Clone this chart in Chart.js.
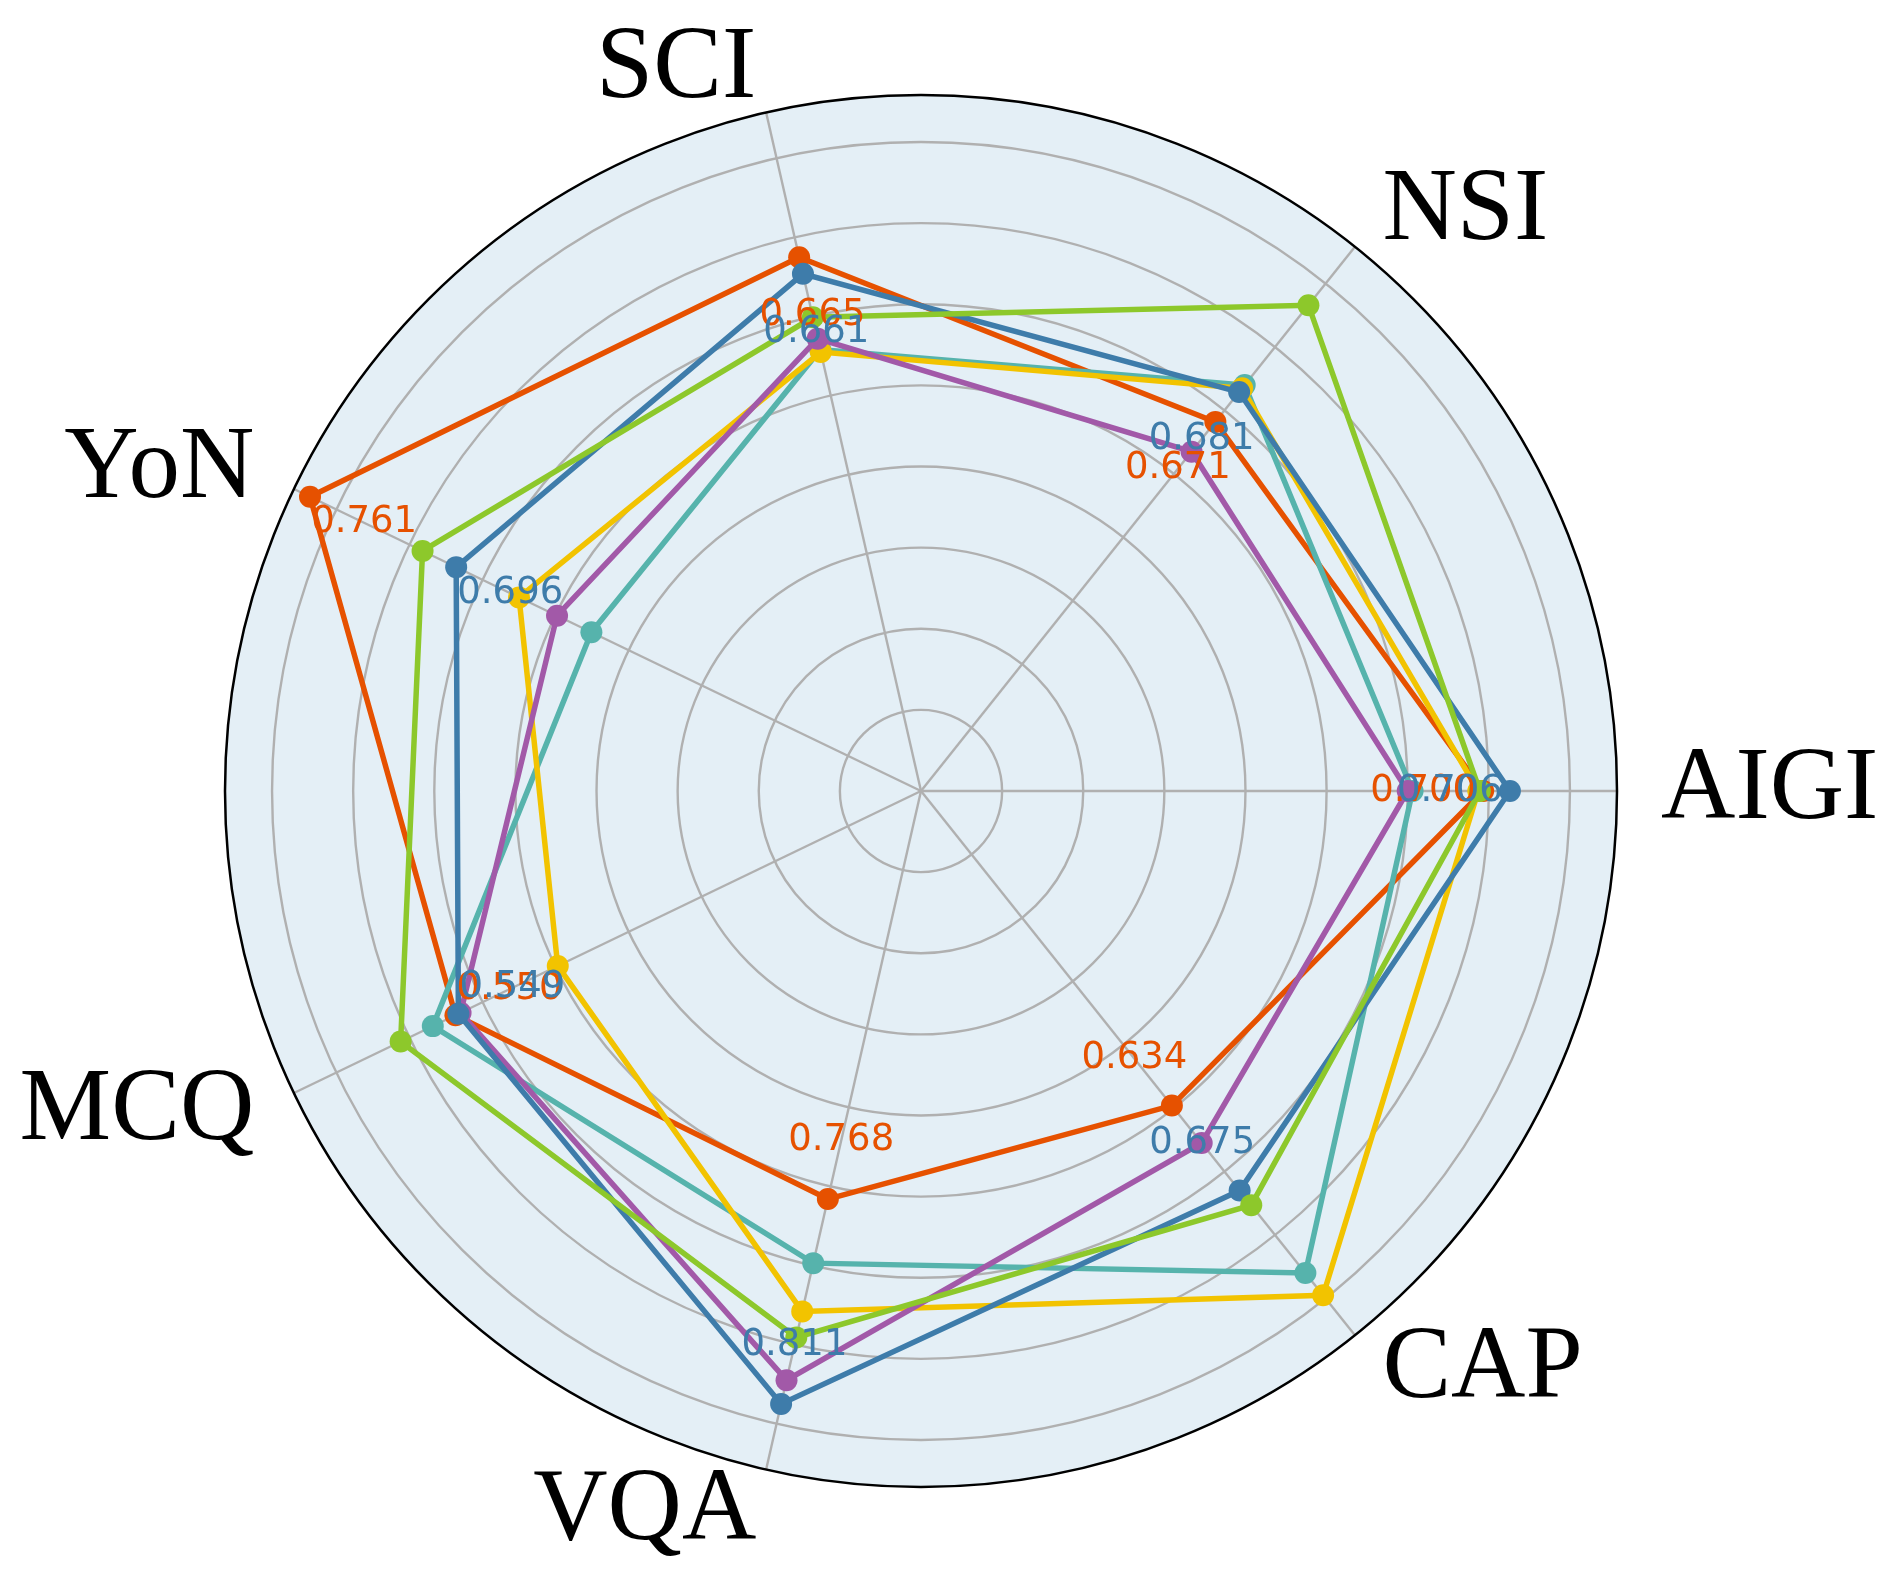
<!DOCTYPE html>
<html>
<head>
<meta charset="utf-8">
<script src="https://cdn.jsdelivr.net/npm/chart.js@4.4.1/dist/chart.umd.min.js"></script>
<style>
  html, body { margin: 0; padding: 0; background: #ffffff; }
  canvas { display: block; }
</style>
</head>
<body>
<canvas id="c" width="1902" height="1582"></canvas>
<script>
// ---- data (axes listed counter-clockwise starting at the right) ----
const categories = ["AIGI", "NSI", "SCI", "YoN", "MCQ", "VQA", "CAP"];

const orangeValues = [0.693, 0.582, 0.675, 0.836, 0.637, 0.516, 0.496];
const blueValues   = [0.726, 0.629, 0.654, 0.636, 0.633, 0.775, 0.630];
const greenValues  = [0.689, 0.766, 0.599, 0.682, 0.712, 0.691, 0.653];
const tealValues   = [0.606, 0.640, 0.558, 0.451, 0.668, 0.597, 0.760];
const purpleValues = [0.600, 0.535, 0.572, 0.498, 0.630, 0.745, 0.555];
const yellowValues = [0.687, 0.635, 0.555, 0.550, 0.497, 0.658, 0.795];

// annotated scores shown next to the orange and blue series
const orangeLabels = [0.700, 0.671, 0.665, 0.761, 0.550, 0.768, 0.634];
const blueLabels   = [0.706, 0.681, 0.661, 0.696, 0.549, 0.811, 0.675];

const radialMax = 0.858;
const radialStep = 0.1;

// ---- styling ----
const COLORS = {
  orange: "#E65100",
  blue:   "#3E7CAA",
  green:  "#8DC82B",
  teal:   "#56B3AC",
  purple: "#A259A8",
  yellow: "#F2C300"
};

// Chart.js walks clockwise; reference walks counter-clockwise from the right
const chartOrder = [0, 6, 5, 4, 3, 2, 1];
const reorder = arr => chartOrder.map(i => arr[i]);
const chartLabels = reorder(categories);

function ds(name, values, color) {
  return {
    label: name,
    data: reorder(values),
    borderColor: color,
    backgroundColor: color,
    pointBackgroundColor: color,
    pointBorderColor: color,
    pointBorderWidth: 0,
    pointRadius: 11,
    pointHoverRadius: 11,
    borderWidth: 5.5,
    fill: false,
    tension: 0
  };
}

const labelInset = 0.074;

const annotatePlugin = {
  id: "annotate",
  afterDatasetsDraw(chart) {
    const s = chart.scales.r;
    const ctx = chart.ctx;
    ctx.save();
    // outer frame circle
    ctx.beginPath();
    ctx.arc(s.xCenter, s.yCenter, s.getDistanceFromCenterForValue(s.max), 0, Math.PI * 2);
    ctx.strokeStyle = "#000000";
    ctx.lineWidth = 2.5;
    ctx.stroke();

    // value annotations
    ctx.font = '37px "DejaVu Sans"';
    ctx.textAlign = "center";
    ctx.textBaseline = "middle";
    [[orangeLabels, orangeValues, COLORS.orange], [blueLabels, blueValues, COLORS.blue]].forEach(([labs, vals, col]) => {
      chartOrder.forEach((src, idx) => {
        const p = s.getPointPosition(idx, s.getDistanceFromCenterForValue(vals[src] - labelInset));
        ctx.fillStyle = col;
        ctx.fillText(labs[src].toFixed(3), p.x, p.y);
      });
    });

    // category labels
    ctx.font = '103px "Liberation Serif"';
    ctx.fillStyle = "#000000";
    ctx.textBaseline = "middle";
    chartLabels.forEach((lab, idx) => {
      const p = s.getPointPosition(idx, s.drawingArea + 44);
      const dx = p.x - s.xCenter;
      ctx.textAlign = Math.abs(dx) < 1 ? "center" : (dx > 0 ? "left" : "right");
      ctx.fillText(lab, p.x, p.y);
    });
    ctx.restore();
  }
};

new Chart(document.getElementById("c"), {
  type: "radar",
  data: {
    labels: chartLabels,
    datasets: [
      ds("Series 3", greenValues, COLORS.green),
      ds("Series 2", blueValues, COLORS.blue),
      ds("Series 5", purpleValues, COLORS.purple),
      ds("Series 6", yellowValues, COLORS.yellow),
      ds("Series 4", tealValues, COLORS.teal),
      ds("Series 1", orangeValues, COLORS.orange)
    ]
  },
  options: {
    responsive: false,
    animation: false,
    devicePixelRatio: 1,
    events: [],
    layout: { padding: { left: 225, right: 285, top: 95, bottom: 95 } },
    plugins: {
      legend: { display: false },
      tooltip: { enabled: false }
    },
    scales: {
      r: {
        min: 0,
        max: radialMax,
        startAngle: 90,
        backgroundColor: "#E4EFF6",
        grid: { circular: true, color: "#B0B0B0", lineWidth: 2.4 },
        angleLines: { display: true, color: "#B0B0B0", lineWidth: 2.4 },
        ticks: { display: false, stepSize: radialStep, includeBounds: false },
        pointLabels: { display: false }
      }
    }
  },
  plugins: [annotatePlugin]
});
</script>
</body>
</html>
